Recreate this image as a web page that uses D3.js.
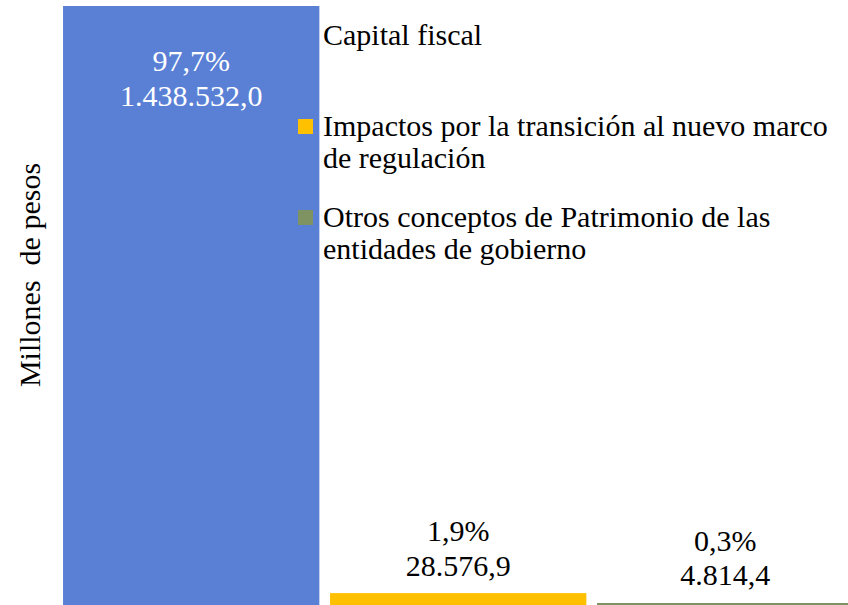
<!DOCTYPE html>
<html><head><meta charset="utf-8"><script src="https://cdn.jsdelivr.net/npm/d3@7"></script>
<style>
  body { margin: 0; }
  svg text, svg tspan { font-family: 'Liberation Serif', 'Times New Roman', Tinos, serif !important; }
</style>
</head>
<body>
<script>
// data
var categories = ['Capital fiscal',
  'Impactos por la transición al nuevo marco de regulación',
  'Otros conceptos de Patrimonio de las entidades de gobierno'];
var values = [1438532.0, 28576.9, 4814.4];
var shares = ['97,7%', '1,9%', '0,3%'];
var valueLabels = ['1.438.532,0', '28.576,9', '4.814,4'];
var colors = ['#5A80D6', '#FFC000', '#7F9362'];

var width = 848, height = 605;
var fontSize = 30;
var fontFamily = "'Liberation Serif', 'Times New Roman', Tinos, serif";

var svg = d3.select('body')
  .append('svg')
  .attr('width', width)
  .attr('height', height)
  .style('font-family', fontFamily);

// scales
var x = d3.scaleBand()
  .domain(categories)
  .range([57.7, 858.7])
  .paddingInner(0.04)
  .paddingOuter(0.02);

var y = d3.scaleLinear()
  .domain([0, d3.max(values)])
  .range([605, 6]);

var color = d3.scaleOrdinal()
  .domain(categories)
  .range(colors);

// bars
svg.selectAll('rect.bar')
  .data(categories)
  .enter()
  .append('rect')
  .attr('class', 'bar')
  .attr('x', function(d) { return x(d); })
  .attr('y', function(d, i) { return y(values[i]); })
  .attr('width', x.bandwidth())
  .attr('height', function(d, i) { return y(0) - y(values[i]); })
  .attr('fill', function(d) { return color(d); });

// data labels: big bar inside top, small bars above
var labels = svg.selectAll('text.lbl')
  .data(categories)
  .enter()
  .append('text')
  .attr('class', 'lbl')
  .attr('text-anchor', 'middle')
  .attr('font-size', fontSize)
  .style('font-family', fontFamily)
  .attr('fill', function(d, i) { return i == 0 ? '#fff' : '#000'; });

labels.append('tspan')
  .attr('x', function(d) { return x(d) + x.bandwidth() / 2; })
  .attr('y', function(d, i) {
    var top = y(values[i]);
    return i == 0 ? top + 65 : top - 52;
  })
  .text(function(d, i) { return shares[i]; });

labels.append('tspan')
  .attr('x', function(d) { return x(d) + x.bandwidth() / 2; })
  .attr('dy', 34.5)
  .text(function(d, i) { return valueLabels[i]; });

// legend
var legendX = 298, legendY = 45, legendStep = 91, lineH = 32, maxChars = 42;

// simple word wrap by character count
function wrapWords(s) {
  var lines = [], cur = '';
  s.split(' ').forEach(function(w) {
    var next = cur ? cur + ' ' + w : w;
    if (next.length > maxChars && cur) { lines.push(cur); cur = w; }
    else cur = next;
  });
  lines.push(cur);
  return lines;
}

var legend = svg.selectAll('g.legend')
  .data(categories)
  .enter()
  .append('g')
  .attr('class', 'legend')
  .attr('transform', function(d, i) {
    return 'translate(' + legendX + ',' + (legendY + i * legendStep) + ')';
  });

legend.append('rect')
  .attr('x', 0)
  .attr('y', -17)
  .attr('width', 15)
  .attr('height', 15)
  .attr('fill', function(d) { return color(d); });

legend.append('text')
  .attr('font-size', fontSize)
  .style('font-family', fontFamily)
  .attr('fill', '#000')
  .selectAll('tspan')
  .data(function(d) { return wrapWords(d); })
  .enter()
  .append('tspan')
  .attr('x', 25)
  .attr('y', function(d, i) { return i * lineH; })
  .text(function(d) { return d; });

// y axis title
svg.append('text')
  .attr('transform', 'translate(40,275) rotate(-90)')
  .attr('text-anchor', 'middle')
  .attr('font-size', fontSize)
  .style('font-family', fontFamily)
  .attr('fill', '#000')
  .text('Millones\u00a0 de pesos');
</script>
</body></html>
